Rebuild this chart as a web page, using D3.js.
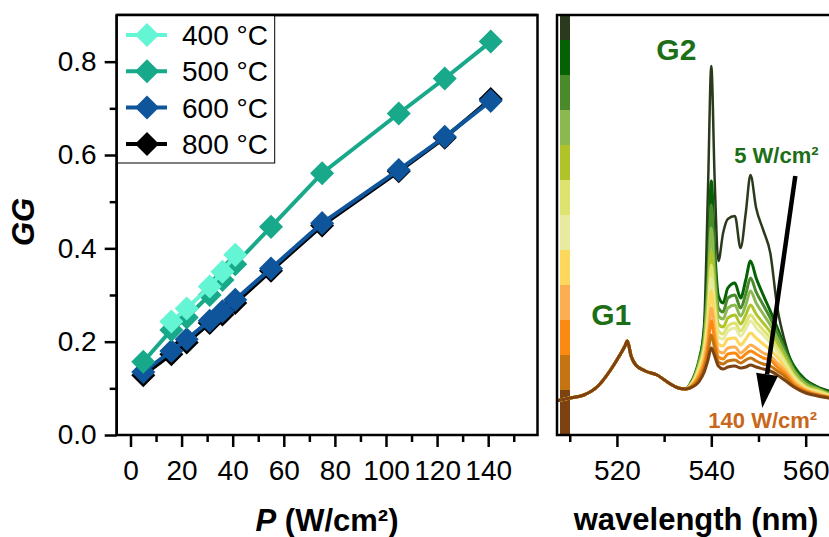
<!DOCTYPE html>
<html>
<head>
<meta charset="utf-8">
<script src="https://cdn.jsdelivr.net/npm/d3@7"></script>
<style>
  body { margin: 0; background: #fff; }
  svg { display: block; font-family: "Liberation Sans", Arial, sans-serif; }
</style>
</head>
<body>
<div id="chart"></div>
<script>
// ---- left panel: GG vs excitation power density
const seriesNames = ["400 °C", "500 °C", "600 °C", "800 °C"];
const seriesColors = ["#64f5d4", "#17a98a", "#0e559c", "#000000"];
const power400 = [16, 22, 31, 36, 41];
const gg400 = [0.243, 0.271, 0.318, 0.350, 0.386];
const power = [5, 16, 22, 31, 36, 41, 55, 75, 105, 123, 141];
const gg500 = [0.157, 0.225, 0.252, 0.300, 0.332, 0.366, 0.446, 0.561, 0.689, 0.764, 0.843];
const gg600 = [0.135, 0.180, 0.205, 0.245, 0.265, 0.290, 0.357, 0.454, 0.568, 0.639, 0.716];
const gg800 = [0.128, 0.173, 0.198, 0.240, 0.258, 0.283, 0.352, 0.449, 0.565, 0.637, 0.720];
const pTicks = [0, 20, 40, 60, 80, 100, 120, 140];
const pMinor = [10, 30, 50, 70, 90, 110, 130, 150];
const ggTicks = [0, 0.2, 0.4, 0.6, 0.8];
const ggMinor = [0.1, 0.3, 0.5, 0.7];

// ---- right panel: emission spectra (a.u.), 5 -> 140 W/cm²
const wlLow = [507, 510, 513, 516, 518.5, 520.5, 521.7, 522.2, 523, 524, 526, 528.5, 531, 533, 534.5];
const intLow = [34, 37, 40, 49, 64, 79, 89, 94, 79, 70, 64, 60, 52, 47, 46];
const wlHigh = [535.5, 537.5, 538.5, 539.3, 540, 540.7, 541.5, 542.5, 543.5, 545, 546.2,
  547.3, 548.3, 549.5, 551, 552.5, 554, 555.5, 557.5, 560, 562.5, 565];
const intHigh = [
  [48, 75, 112, 247, 369, 257, 174, 202, 216, 219, 187, 222, 260, 227, 205, 182, 127, 95, 67, 55, 48, 44],
  [51, 77, 104, 172, 254, 187, 139, 132, 147, 152, 137, 155, 174, 157, 140, 124, 107, 89, 69, 55, 48, 43],
  [50, 75, 99, 157, 230, 172, 127, 123, 137, 140, 127, 141, 157, 143, 130, 117, 102, 86, 66, 53, 47, 42],
  [50, 73, 95, 144, 207, 157, 119, 116, 127, 130, 119, 130, 144, 132, 121, 110, 96, 82, 64, 51, 46, 41],
  [49, 71, 91, 131, 184, 142, 111, 108, 117, 120, 111, 120, 130, 121, 112, 103, 91, 78, 61, 49, 45, 40],
  [49, 69, 87, 122, 170, 132, 104, 101, 109, 112, 104, 112, 120, 113, 105, 97, 87, 75, 59, 48, 44, 40],
  [49, 67, 84, 114, 157, 123, 98, 96, 104, 107, 99, 106, 114, 107, 100, 92, 83, 72, 57, 47, 43, 39],
  [48, 65, 80, 106, 144, 114, 91, 89, 96, 97, 90, 96, 102, 97, 91, 85, 78, 68, 55, 46, 42, 39],
  [48, 62, 75, 97, 127, 104, 84, 82, 87, 88, 82, 86, 90, 87, 82, 79, 72, 65, 53, 45, 41, 38],
  [48, 59, 71, 89, 114, 95, 78, 76, 81, 82, 77, 81, 84, 81, 77, 75, 68, 62, 51, 44, 40, 38],
  [47, 57, 67, 82, 100, 87, 73, 71, 74, 75, 72, 75, 77, 74, 71, 69, 64, 59, 49, 43, 40, 37],
  [47, 54, 63, 75, 87, 79, 69, 66, 68, 69, 67, 68, 70, 68, 66, 64, 60, 55, 48, 42, 39, 37]
];
const specColors = ["#2b3a1c", "#046204", "#4a8a2a", "#8cb850", "#b0c42a", "#dde36e",
  "#e6eba0", "#fdd85c", "#fcae52", "#fb8a12", "#c57412", "#7d4212"];
const wlTicks = [520, 540, 560];
const wlMinor = [510, 530, 550];

const [w, h] = [829, 537];
const fontTick = 28;

const svg = d3.select("#chart").append("svg")
  .attr("width", w)
  .attr("height", h);

// ================= left panel =================
const left = { x0: 116.7, x1: 537.5, y0: 15, y1: 435 };
const xScale = d3.scaleLinear().domain([-5.4, 159.3]).range([left.x0, left.x1]);
const yScale = d3.scaleLinear().domain([0, 0.9]).range([left.y1, left.y0]);

function styleAxis(g) {
  g.select(".domain").remove();
  g.selectAll("line").attr("stroke", "#000").attr("stroke-width", 2.5);
  g.selectAll("text").attr("font-size", fontTick).attr("fill", "#000")
    .attr("font-family", "Liberation Sans, Arial, sans-serif");
}

svg.append("g")
  .attr("transform", `translate(0,${left.y1})`)
  .call(d3.axisBottom(xScale).tickValues(pTicks).tickSize(12).tickPadding(13))
  .call(styleAxis);
svg.append("g")
  .attr("transform", `translate(0,${left.y1})`)
  .call(d3.axisBottom(xScale).tickValues(pMinor).tickSize(7).tickFormat(""))
  .call(styleAxis);
svg.append("g")
  .attr("transform", `translate(${left.x0},0)`)
  .call(d3.axisLeft(yScale).tickValues(ggTicks).tickSize(12).tickPadding(8).tickFormat(d3.format(".1f")))
  .call(styleAxis);
svg.append("g")
  .attr("transform", `translate(${left.x0},0)`)
  .call(d3.axisLeft(yScale).tickValues(ggMinor).tickSize(7).tickFormat(""))
  .call(styleAxis);

const leftData = [
  { name: seriesNames[3], color: seriesColors[3], p: power, v: gg800 },
  { name: seriesNames[2], color: seriesColors[2], p: power, v: gg600 },
  { name: seriesNames[1], color: seriesColors[1], p: power, v: gg500 },
  { name: seriesNames[0], color: seriesColors[0], p: power400, v: gg400 }
];

const diamond = d3.symbol().type(d3.symbolSquare).size(17 * 17);
const line = d3.line().x(d => xScale(d[0])).y(d => yScale(d[1]));

leftData.forEach(s => {
  const pts = s.p.map((p, i) => [p, s.v[i]]);
  svg.append("path")
    .datum(pts)
    .attr("d", line)
    .attr("fill", "none")
    .attr("stroke", s.color)
    .attr("stroke-width", 4);
  svg.append("g").selectAll("path")
    .data(pts)
    .enter()
    .append("path")
    .attr("d", diamond)
    .attr("transform", d => `translate(${xScale(d[0])},${yScale(d[1])}) rotate(45)`)
    .attr("fill", s.color);
});

// frame
svg.append("rect")
  .attr("x", left.x0).attr("y", left.y0)
  .attr("width", left.x1 - left.x0).attr("height", left.y1 - left.y0)
  .attr("fill", "none").attr("stroke", "#000").attr("stroke-width", 2.5);

// legend
const legend = svg.append("g");
legend.append("rect")
  .attr("x", left.x0).attr("y", left.y0)
  .attr("width", 158).attr("height", 148)
  .attr("fill", "#fff").attr("stroke", "#000").attr("stroke-width", 1);
seriesNames.forEach((name, i) => {
  const cy = 35 + i * 36.3;
  legend.append("line")
    .attr("x1", 126).attr("x2", 167).attr("y1", cy).attr("y2", cy)
    .attr("stroke", seriesColors[i]).attr("stroke-width", 4);
  legend.append("path")
    .attr("d", diamond)
    .attr("transform", `translate(147,${cy}) rotate(45)`)
    .attr("fill", seriesColors[i]);
  legend.append("text")
    .attr("x", 182).attr("y", cy + 10)
    .attr("font-size", fontTick)
    .text(name);
});
// redraw frame edge over legend box
svg.append("line")
  .attr("x1", left.x0).attr("x2", left.x0).attr("y1", left.y0).attr("y2", left.y1)
  .attr("stroke", "#000").attr("stroke-width", 2.5);
svg.append("line")
  .attr("x1", left.x0).attr("x2", left.x1).attr("y1", left.y0).attr("y2", left.y0)
  .attr("stroke", "#000").attr("stroke-width", 2.5);

// axis titles
svg.append("text")
  .attr("transform", "translate(34,222) rotate(-90)")
  .attr("text-anchor", "middle")
  .attr("font-size", 31).attr("font-weight", "bold").attr("font-style", "italic")
  .text("GG");
const xt = svg.append("text")
  .attr("x", 327).attr("y", 531)
  .attr("text-anchor", "middle")
  .attr("font-size", 31).attr("font-weight", "bold");
xt.append("tspan").attr("font-style", "italic").text("P");
xt.append("tspan").text(" (W/cm²)");

// ================= right panel =================
const right = { x0: 557, x1: 834, y0: 15, y1: 435 };
const xR = d3.scaleLinear().domain([507.3, 566]).range([right.x0, right.x1]);
const yR = d3.scaleLinear().domain([0, 420]).range([right.y1, right.y0]);

svg.append("g")
  .attr("transform", `translate(0,${right.y1})`)
  .call(d3.axisBottom(xR).tickValues(wlTicks).tickSize(12).tickPadding(13).tickFormat(d3.format("d")))
  .call(styleAxis);
svg.append("g")
  .attr("transform", `translate(0,${right.y1})`)
  .call(d3.axisBottom(xR).tickValues(wlMinor).tickSize(7).tickFormat(""))
  .call(styleAxis);

svg.append("defs").append("clipPath").attr("id", "clipR")
  .append("rect")
  .attr("x", right.x0).attr("y", right.y0)
  .attr("width", right.x1 - right.x0).attr("height", right.y1 - right.y0);

const plotR = svg.append("g").attr("clip-path", "url(#clipR)");

// colour bar (one cell per spectrum)
const yBand = d3.scaleBand().domain(d3.range(specColors.length)).range([5, 425]);
plotR.selectAll("rect.cb")
  .data(specColors)
  .enter()
  .append("rect")
  .attr("class", "cb")
  .attr("x", 560).attr("width", 10)
  .attr("y", (d, i) => yBand(i))
  .attr("height", (d, i) => i === specColors.length - 1 ? right.y1 - yBand(i) : yBand.bandwidth() + 0.5)
  .attr("fill", d => d);

const specLine = d3.line()
  .x(d => xR(d[0]))
  .y(d => yR(d[1]))
  .curve(d3.curveMonotoneX);

intHigh.forEach((vals, k) => {
  const pts = wlLow.map((wl, i) => [wl, intLow[i]])
    .concat(wlHigh.map((wl, i) => [wl, vals[i]]));
  plotR.append("path")
    .datum(pts)
    .attr("d", specLine)
    .attr("fill", "none")
    .attr("stroke", specColors[k])
    .attr("stroke-width", k === 0 ? 2.5 : 3)
    .attr("stroke-linejoin", "round");
});

// annotations
const green = "#1c6f17";
svg.append("text")
  .attr("x", xR(532.6)).attr("y", yR(375))
  .attr("text-anchor", "middle")
  .attr("font-size", 30).attr("font-weight", "bold").attr("fill", green)
  .text("G2");
svg.append("text")
  .attr("x", xR(518.8)).attr("y", yR(110))
  .attr("text-anchor", "middle")
  .attr("font-size", 30).attr("font-weight", "bold").attr("fill", green)
  .text("G1");
svg.append("text")
  .attr("x", xR(553.8)).attr("y", yR(272))
  .attr("text-anchor", "middle")
  .attr("font-size", 22).attr("font-weight", "bold").attr("fill", green)
  .text("5 W/cm²");
svg.append("text")
  .attr("x", xR(550.9)).attr("y", yR(7))
  .attr("text-anchor", "middle")
  .attr("font-size", 22).attr("font-weight", "bold").attr("fill", "#c8671a")
  .text("140 W/cm²");

// arrow from low to high power
const a0 = [xR(557.8), yR(259)];
const a1 = [xR(550.8), yR(27)];
const ang = Math.atan2(a1[1] - a0[1], a1[0] - a0[0]);
const headLen = 34, headW = 11;
const base = [a1[0] - headLen * Math.cos(ang), a1[1] - headLen * Math.sin(ang)];
svg.append("line")
  .attr("x1", a0[0]).attr("y1", a0[1]).attr("x2", base[0]).attr("y2", base[1])
  .attr("stroke", "#000").attr("stroke-width", 4.5);
svg.append("path")
  .attr("d", d3.line()([
    a1,
    [base[0] + headW * Math.sin(ang), base[1] - headW * Math.cos(ang)],
    [base[0] - headW * Math.sin(ang), base[1] + headW * Math.cos(ang)]
  ]) + "Z")
  .attr("fill", "#000");

// frame
svg.append("path")
  .attr("d", `M${right.x1},${right.y0}H${right.x0}V${right.y1}H${right.x1}`)
  .attr("fill", "none").attr("stroke", "#000").attr("stroke-width", 2.5);

svg.append("text")
  .attr("x", 696).attr("y", 530)
  .attr("text-anchor", "middle")
  .attr("font-size", 31).attr("font-weight", "bold")
  .text("wavelength (nm)");
</script>
</body>
</html>
